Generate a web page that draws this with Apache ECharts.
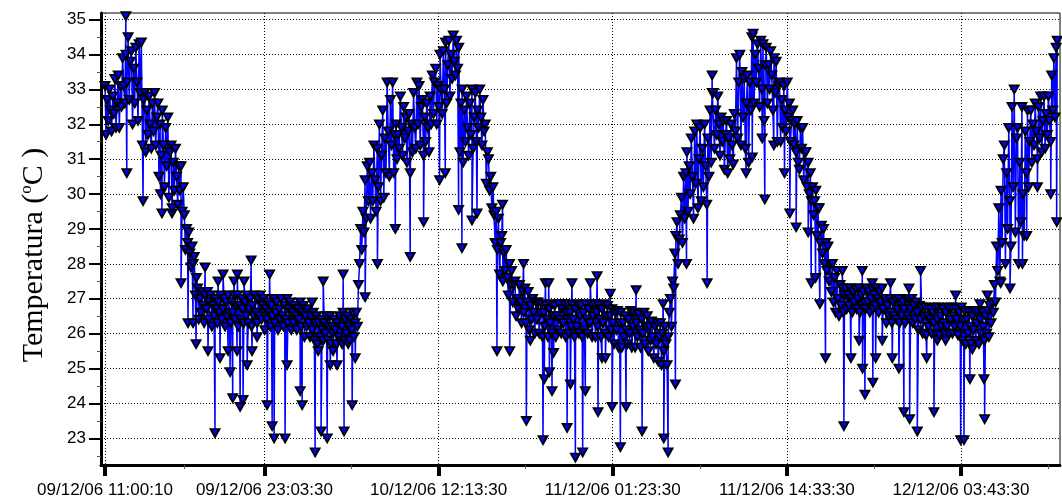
<!DOCTYPE html>
<html><head><meta charset="utf-8">
<script src="https://cdn.jsdelivr.net/npm/echarts@6/dist/echarts.min.js"></script>
<style>html,body{margin:0;padding:0;background:#fff}#c{width:1062px;height:504px}</style>
</head><body><div id="c"></div>
<script>
// ---- data ----
const startLabel = '09/12/06 11:00:10';
const stepMinutes = 5;
// regular readings, one every 5 minutes (one row = one hour)
const baseTemps = [
33.1,31.7,32.7,32.1,33.0,32.4,31.8,32.8,32.3,33.3,31.9,32.6,
33.4,31.9,33.1,32.5,33.9,33.1,32.6,34.0,33.2,34.5,32.7,33.8,
34.1,32.0,33.6,32.6,34.2,33.2,32.1,34.3,32.9,34.35,31.4,32.7,
32.9,31.2,32.4,31.7,32.8,32.0,31.3,32.6,31.8,32.9,31.4,32.2,
32.6,30.5,32.0,31.1,32.4,31.4,30.2,31.9,30.8,32.2,29.9,31.2,
31.4,29.6,30.9,30.1,31.3,30.5,29.7,30.8,30.1,30.8,29.5,30.2,
29.4,28.4,29.0,28.6,28.9,28.3,27.9,28.5,28.0,28.2,27.1,27.6,
27.3,26.4,27.0,26.6,27.2,26.8,26.3,27.1,26.7,27.2,26.4,26.9,
27.1,26.2,26.8,26.5,27.0,26.7,26.3,26.9,26.6,27.1,26.4,26.7,
27.0,26.2,26.9,26.5,27.1,26.6,26.3,26.9,26.6,27.1,26.4,26.8,
27.1,26.2,26.8,26.4,27.0,26.7,26.3,26.9,26.5,27.1,26.3,26.7,
27.0,26.2,26.8,26.5,27.1,26.6,26.3,27.0,26.5,27.1,26.4,26.8,
27.0,26.1,26.7,26.4,26.9,26.6,26.2,26.8,26.5,27.0,26.3,26.6,
26.9,26.1,26.7,26.4,27.0,26.5,26.2,26.8,26.4,27.0,26.3,26.7,
26.9,26.1,26.6,26.3,26.8,26.5,26.1,26.7,26.4,26.9,26.2,26.6,
26.8,25.9,26.5,26.2,26.7,26.3,25.9,26.5,26.1,26.6,25.8,26.3,
26.5,25.7,26.3,25.9,26.4,26.1,25.8,26.3,26.0,26.5,25.8,26.2,
26.5,25.7,26.2,26.0,26.4,26.1,25.7,26.3,25.9,26.5,25.8,26.2,
26.6,25.8,26.4,26.0,26.5,26.2,25.8,26.4,26.1,26.6,25.9,26.3,
26.6,26.2,27.4,28.0,29.0,28.4,29.5,28.9,30.4,29.3,30.8,29.8,
30.9,29.3,30.6,29.8,31.4,30.4,29.5,31.3,30.2,32.0,29.8,31.1,
32.4,29.9,31.6,30.6,33.2,31.8,30.5,32.7,31.4,33.2,30.6,31.7,
32.0,31.0,31.7,31.3,32.8,31.9,31.1,32.5,31.6,32.2,30.9,31.8,
32.3,30.6,32.0,31.2,32.9,31.9,31.3,33.2,32.0,33.1,31.4,32.5,
32.7,31.1,32.2,31.5,32.6,31.9,31.2,32.8,32.0,33.4,32.3,33.2,
33.6,32.0,33.1,32.5,34.0,33.0,32.3,34.1,33.0,34.35,32.6,33.7,
34.4,32.8,34.0,33.3,34.55,33.8,33.4,34.4,33.6,34.2,31.2,32.6,
33.0,30.9,32.4,31.5,32.8,31.9,31.1,32.6,31.7,33.0,31.3,32.2,
32.9,31.5,32.4,31.9,33.0,32.2,31.4,32.7,31.8,32.0,30.3,31.2,
31.0,30.1,30.5,29.6,30.2,29.4,28.6,29.5,28.4,29.3,27.7,28.6,
28.8,27.5,28.3,27.8,28.4,27.6,27.1,28.0,27.4,27.8,26.9,27.4,
27.5,26.5,27.0,26.7,27.4,26.9,26.3,27.2,26.6,27.3,26.3,26.9,
27.2,26.1,26.8,26.4,27.0,26.6,26.0,26.9,26.4,26.9,26.0,26.6,
26.85,25.9,26.6,26.2,26.8,26.4,25.9,26.7,26.3,26.85,26.0,26.5,
26.8,25.9,26.5,26.1,26.85,26.4,26.0,26.7,26.3,26.85,25.9,26.6,
26.85,26.0,26.6,26.2,26.8,26.4,25.9,26.7,26.2,26.85,26.0,26.5,
26.8,25.9,26.6,26.1,26.85,26.4,26.0,26.7,26.3,26.85,25.9,26.5,
26.85,25.9,26.6,26.2,26.8,26.4,25.9,26.7,26.3,26.85,26.0,26.5,
26.8,25.9,26.5,26.1,26.7,26.3,25.7,26.6,26.1,26.65,25.6,26.3,
26.6,25.6,26.3,25.9,26.5,26.1,25.7,26.4,26.0,26.65,25.6,26.2,
26.6,25.6,26.3,25.9,26.55,26.1,25.6,26.4,26.0,26.6,25.7,26.2,
26.5,25.5,26.2,25.8,26.35,25.9,25.3,26.2,25.7,26.3,25.2,25.9,
26.3,25.1,26.0,25.5,26.2,25.7,25.1,25.9,26.6,27.0,26.2,27.5,
27.3,28.3,28.8,29.2,28.0,28.7,29.4,29.9,28.6,30.5,29.3,30.6,
31.2,29.5,30.8,30.0,31.6,30.5,29.3,31.8,30.3,32.0,29.6,31.0,
31.9,29.8,31.3,30.2,32.0,30.8,29.7,31.6,30.5,32.4,30.9,32.9,
32.9,31.3,32.4,31.7,32.8,32.0,31.1,32.2,31.5,32.1,30.7,31.7,
32.1,30.6,31.6,31.0,32.0,31.4,30.85,32.3,31.8,33.9,31.6,33.2,
34.0,31.4,33.5,32.2,33.3,31.3,32.6,33.4,30.9,33.2,32.4,34.5,
34.6,32.6,34.0,33.2,34.3,33.6,32.5,34.4,33.0,34.3,32.1,33.7,
34.2,32.6,33.7,33.0,34.1,33.4,32.4,33.9,32.9,33.8,31.5,33.1,
33.2,31.5,32.7,31.9,33.1,32.4,31.8,33.2,32.2,32.6,31.5,32.1,
32.4,31.4,32.0,31.2,32.1,30.9,30.7,31.9,31.3,31.9,30.4,31.2,
31.2,30.2,30.9,30.0,30.6,29.8,30.2,29.4,29.8,30.1,28.8,29.6,
29.6,28.6,29.1,28.3,29.0,28.0,28.6,27.8,28.5,27.5,28.0,27.2,
28.0,26.9,27.6,26.6,27.8,27.0,26.5,27.4,26.8,27.3,26.6,27.1,
27.3,26.7,27.1,26.8,27.3,27.0,26.6,27.2,26.9,27.3,26.7,27.0,
27.3,26.6,27.1,26.8,27.2,26.9,26.7,27.3,26.9,27.2,26.6,27.0,
27.3,26.7,27.1,26.8,27.3,27.0,26.6,27.2,26.9,27.3,26.7,27.0,
27.0,26.3,26.8,26.5,27.0,26.6,26.3,26.9,26.5,27.0,26.4,26.7,
27.0,26.3,26.8,26.5,26.9,26.7,26.3,27.0,26.5,27.0,26.4,26.7,
27.0,26.3,26.8,26.4,26.9,26.6,26.1,26.8,26.4,26.75,26.0,26.5,
26.75,25.95,26.5,26.2,26.7,26.4,26.0,26.6,26.3,26.75,26.0,26.4,
26.75,25.95,26.5,26.2,26.7,26.3,26.0,26.6,26.2,26.75,26.0,26.4,
26.75,26.0,26.5,26.2,26.7,26.4,25.95,26.6,26.2,26.75,25.8,26.4,
26.65,25.7,26.4,26.0,26.6,26.2,25.7,26.5,26.1,26.65,25.8,26.3,
26.65,25.7,26.4,26.0,26.6,26.2,25.8,26.5,26.0,26.65,25.9,26.8,
26.3,26.9,26.6,27.4,26.9,28.5,27.8,29.6,27.5,30.1,28.6,31.0,
31.4,28.0,30.6,29.0,31.9,29.8,28.5,32.5,30.2,33.0,28.9,31.6,
31.9,28.0,30.9,29.2,32.5,30.0,28.8,31.8,30.6,32.4,30.2,31.5,
32.4,30.9,32.0,31.4,32.6,31.8,31.0,32.5,31.6,32.8,31.2,32.1,
32.8,31.3,32.3,31.7,32.8,32.1,31.5,33.4,32.4,33.9,32.2,34.2,
34.4
];
// isolated readings (spikes), hours after the start
const spikeHours = [
  1.58,1.65,2.88,4.2,4.31,5.07,5.75,6.28,6.66,6.89,
  7.57,7.79,8.32,8.55,8.70,8.93,9.31,9.46,9.66,9.76,9.99,10.01,10.22,10.44,10.52,10.75,11.05,11.12,11.50,
  12.26,12.45,12.64,12.79,13.62,13.77,14.76,14.91,15.66,15.89,16.12,16.34,16.50,16.80,17.03,17.25,17.55,
  17.93,18.01,18.08,18.39,18.69,18.92,19.67,20.6,
  21.95,23.08,24.09,25.3,25.73,26.74,26.99,27.75,28.13,29.64,30.06,30.6,31.65,31.86,32.16,33.12,33.22,
  33.3,33.55,33.6,33.8,33.92,34.94,35.19,35.31,35.57,36.12,36.32,36.70,37.21,37.28,37.58,37.84,38.21,
  38.34,38.97,39.4,40.16,40.61,42.2,42.25,42.58,43.13,43.97,45.53,45.91,48.48,48.94,49.69,49.89,50.57,
  51.38,51.78,52.26,53.17,53.4,53.73,54.05,54.48,
  55.75,55.87,56.4,57.02,57.26,57.28,57.46,58.02,58.06,58.27,58.77,59.4,59.53,60.03,60.41,60.79,60.84,
  61.42,61.67,62.13,62.68,62.94,63.56,64.32,64.7,64.95,65.4,65.58,66.16,66.46,66.51,66.72,67.73,68.43,
  69.37,69.69,70.5,71.51,71.96
];
const spikeTemps = [
  35.1,30.6,29.8,30.0,29.45,29.45,27.45,26.3,26.3,25.7,
  27.9,25.5,23.15,27.5,25.3,27.7,25.5,24.9,24.15,27.5,25.5,27.7,23.9,24.1,27.5,25.1,28.1,25.5,25.9,
  23.95,27.7,23.35,23.0,23.0,25.1,24.35,23.95,26.9,22.6,25.5,23.2,27.5,23.0,25.1,25.5,25.1,
  25.7,27.7,23.2,25.7,23.95,25.3,27.05,28.0,
  29.0,28.2,29.2,30.4,30.6,29.55,28.45,29.25,29.45,25.5,29.7,25.5,28.0,23.5,25.8,22.95,24.7,
  27.45,27.45,24.9,24.35,25.45,23.3,24.55,27.45,22.45,22.6,24.35,27.45,27.65,23.75,25.3,25.3,27.15,
  23.9,22.75,23.9,27.25,23.2,26.85,23.0,22.6,24.55,28.0,27.45,33.4,30.6,31.05,31.6,29.85,31.4,
  30.6,29.45,29.05,28.9,27.45,27.6,26.85,25.3,
  27.8,23.35,25.3,25.8,27.8,25.0,24.25,27.45,24.6,25.3,25.8,27.45,25.3,25.0,23.75,27.3,23.55,
  23.2,27.8,25.3,23.75,25.8,25.8,27.1,22.95,22.95,24.7,25.55,26.85,24.7,23.55,27.1,27.45,27.3,
  28.0,28.8,30.2,30.0,29.2
];
const xTickLabels = ['09/12/06 11:00:10','09/12/06 23:03:30','10/12/06 12:13:30','11/12/06 01:23:30','11/12/06 14:33:30','12/12/06 03:43:30'];
const yTickValues = [23,24,25,26,27,28,29,30,31,32,33,34,35];

// ---- build ----
function parseStamp(s){
  const [d,t] = s.split(' ');
  const [dd,mm,yy] = d.split('/').map(Number);
  const [h,mi,se] = t.split(':').map(Number);
  return Date.UTC(2000+yy, mm-1, dd, h, mi, se);
}
const HOUR = 3600000;
const t0 = parseStamp(startLabel);
const pts = [];
baseTemps.forEach((v,i)=>pts.push([t0 + i*stepMinutes*60000, v]));
spikeHours.forEach((h,i)=>pts.push([t0 + h*HOUR, spikeTemps[i]]));
pts.sort((a,b)=>a[0]-b[0]);

const xTicks = xTickLabels.map(parseStamp);
const xMinor = [];
for (let i=0;i<xTicks.length-1;i++) xMinor.push((xTicks[i]+xTicks[i+1])/2);
xMinor.push(xTicks[xTicks.length-1] + (xTicks[xTicks.length-1]-xTicks[xTicks.length-2])/2);
const yMinor = yTickValues.map(v=>v-0.5).filter(v=>v>22.24);

const xMin = t0 - 0.30*HOUR, xMax = t0 + 72.21*HOUR;
const yMin = 22.235, yMax = 35.19;

const chart = echarts.init(document.getElementById('c'), null, {renderer:'canvas'});
chart.setOption({
  animation:false,
  backgroundColor:'#fff',
  grid:{left:101,right:2,top:13,bottom:39,show:true,borderColor:'#000',borderWidth:1,containLabel:false,outerBoundsMode:'none'},
  xAxis:[{
    type:'value', min:xMin, max:xMax, position:'bottom',
    axisLine:{show:true,onZero:false,lineStyle:{color:'#000',width:3}},
    axisTick:{show:true,customValues:xTicks,length:11,lineStyle:{color:'#000',width:4}},
    axisLabel:{show:true,customValues:xTicks,margin:17,color:'#000',fontSize:17,fontFamily:'Liberation Sans',
      formatter:(v)=>{let k=0,b=Infinity;xTicks.forEach((t,i)=>{const d=Math.abs(t-v);if(d<b){b=d;k=i;}});return xTickLabels[k];}},
    splitLine:{show:true,lineStyle:{color:'#000',width:1,type:[1,2]}}
  },{
    type:'value', min:xMin, max:xMax, position:'bottom',
    axisLine:{show:false},
    axisTick:{show:true,customValues:xMinor,length:4,lineStyle:{color:'#555',width:1}},
    axisLabel:{show:false}, splitLine:{show:false}
  }],
  yAxis:[{
    type:'value', min:yMin, max:yMax, position:'left',
    axisLine:{show:true,onZero:false,lineStyle:{color:'#000',width:3}},
    axisTick:{show:true,customValues:yTickValues,length:12,lineStyle:{color:'#000',width:2}},
    axisLabel:{show:true,customValues:yTickValues,margin:15,color:'#000',fontSize:17,fontFamily:'Liberation Sans'},
    splitLine:{show:true,lineStyle:{color:'#000',width:1,type:[1,2]}},
    name:'{a|Temperatura (}{s|o}{a|C )}',
    nameLocation:'middle', nameRotate:90, nameGap:51,
    nameTextStyle:{padding:[0,32,0,0],rich:{
      a:{fontFamily:'Liberation Serif',fontSize:30,color:'#000',lineHeight:32},
      s:{fontFamily:'Liberation Serif',fontSize:17,color:'#000',verticalAlign:'top',lineHeight:32}
    }}
  },{
    type:'value', min:yMin, max:yMax, position:'left',
    axisLine:{show:false},
    axisTick:{show:true,customValues:yMinor,length:4,lineStyle:{color:'#555',width:1}},
    axisLabel:{show:false}, splitLine:{show:false}
  }],
  series:[{
    type:'line', xAxisIndex:0, yAxisIndex:0, data:pts,
    symbol:'triangle', symbolRotate:180, symbolSize:[9,8],
    showSymbol:true, showAllSymbol:true,
    lineStyle:{color:'#0000ff',width:1.5},
    itemStyle:{color:'#0000ff',borderColor:'#000',borderWidth:1.8},
    emphasis:{disabled:true}
  }]
});
</script></body></html>
